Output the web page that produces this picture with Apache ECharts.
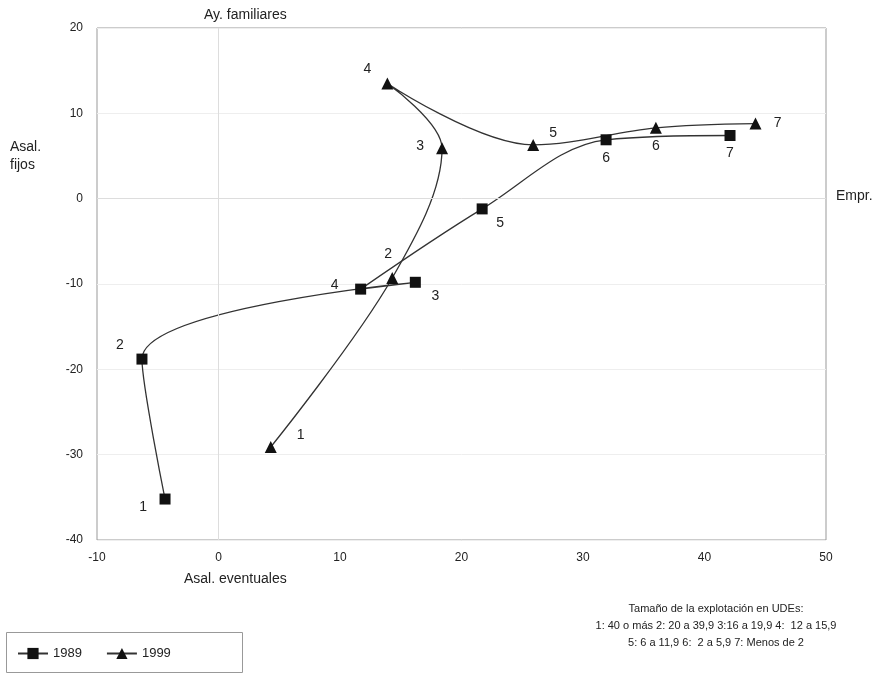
<!DOCTYPE html>
<html><head><meta charset="utf-8">
<script src="https://cdn.jsdelivr.net/npm/echarts@6/dist/echarts.min.js"></script>
<style>body{margin:0;background:#fff}#c{width:894px;height:674px}</style>
</head><body><div id="c"></div>
<script>
var names = ['1', '2', '3', '4', '5', '6', '7'];
var x1989 = [-4.4, -6.3, 16.2, 11.7, 21.7, 31.9, 42.1];
var y1989 = [-35.2, -18.8, -9.8, -10.6, -1.2, 6.9, 7.4];
var x1999 = [4.3, 14.3, 18.4, 13.9, 25.9, 36.0, 44.2];
var y1999 = [-29.1, -9.3, 5.9, 13.5, 6.3, 8.3, 8.8];

var off1989 = [[-22, 8], [-22, -14], [20, 14], [-26, -4], [18, 14], [0, 18], [0, 18]];
var off1999 = [[30, -12], [-4, -24], [-22, -2], [-20, -14], [20, -12], [0, 18], [22, 0]];

function pts(xs, ys, offs) {
    return xs.map(function (x, i) {
        return {value: [x, ys[i]], name: names[i],
            label: {offset: offs[i]}};
    });
}
var lbl = {show: true, position: 'inside', formatter: '{b}', fontSize: 14, color: '#222', fontFamily: 'Liberation Sans'};

var chart = echarts.init(document.getElementById('c'));
chart.setOption({
    animation: false,
    textStyle: {fontFamily: 'Liberation Sans'},
    grid: {left: 97, right: 68, top: 28, bottom: 134, show: true, borderColor: '#999', borderWidth: 1},
    xAxis: {type: 'value', min: -10, max: 50, interval: 10,
        axisLine: {onZero: false, show: false}, axisTick: {show: false},
        splitLine: {show: false},
        axisLabel: {color: '#222', fontSize: 12, margin: 12}},
    yAxis: {type: 'value', min: -40, max: 20, interval: 10,
        axisLine: {show: false}, axisTick: {show: false},
        splitLine: {lineStyle: {color: '#eee'}},
        axisLabel: {color: '#222', fontSize: 12, margin: 14}},
    legend: {left: 12, top: 642, itemWidth: 30, itemGap: 24, textStyle: {fontSize: 13, color: '#222'},
        data: ['1989', '1999']},
    series: [
        {name: 'axes', type: 'line', silent: true, data: [],
            markLine: {symbol: 'none', silent: true, label: {show: false},
                lineStyle: {color: '#ddd', type: 'solid', width: 1},
                data: [{xAxis: 0}, {yAxis: 0}]}},
        {name: '1989', type: 'line', smooth: 0.35, symbol: 'rect', symbolSize: 11,
            itemStyle: {color: '#111'}, lineStyle: {color: '#333', width: 1.3},
            label: lbl, data: pts(x1989, y1989, off1989)},
        {name: '1999', type: 'line', smooth: 0.35, symbol: 'triangle', symbolSize: 12,
            itemStyle: {color: '#111'}, lineStyle: {color: '#333', width: 1.3},
            label: lbl, data: pts(x1999, y1999, off1999)}
    ],
    graphic: [
        {type: 'rect', left: 4, top: 630, shape: {width: 236, height: 40}, style: {fill: 'none', stroke: '#999'}},
        {type: 'text', left: 204, top: 8, style: {text: 'Ay. familiares', fontSize: 14, fill: '#222'}},
        {type: 'text', left: 10, top: 138, style: {text: 'Asal.\nfijos', fontSize: 14, fill: '#222', lineHeight: 18}},
        {type: 'text', left: 836, top: 189, style: {text: 'Empr.', fontSize: 14, fill: '#222'}},
        {type: 'text', left: 184, top: 572, style: {text: 'Asal. eventuales', fontSize: 14, fill: '#222'}},
        {type: 'text', x: 716, y: 600, style: {text: 'Tamaño de la explotación en UDEs:\n1: 40 o más 2: 20 a 39,9 3:16 a 19,9 4:  12 a 15,9\n5: 6 a 11,9 6:  2 a 5,9 7: Menos de 2',
            fontSize: 11, fill: '#222', align: 'center', lineHeight: 17}}
    ]
});
</script></body></html>
